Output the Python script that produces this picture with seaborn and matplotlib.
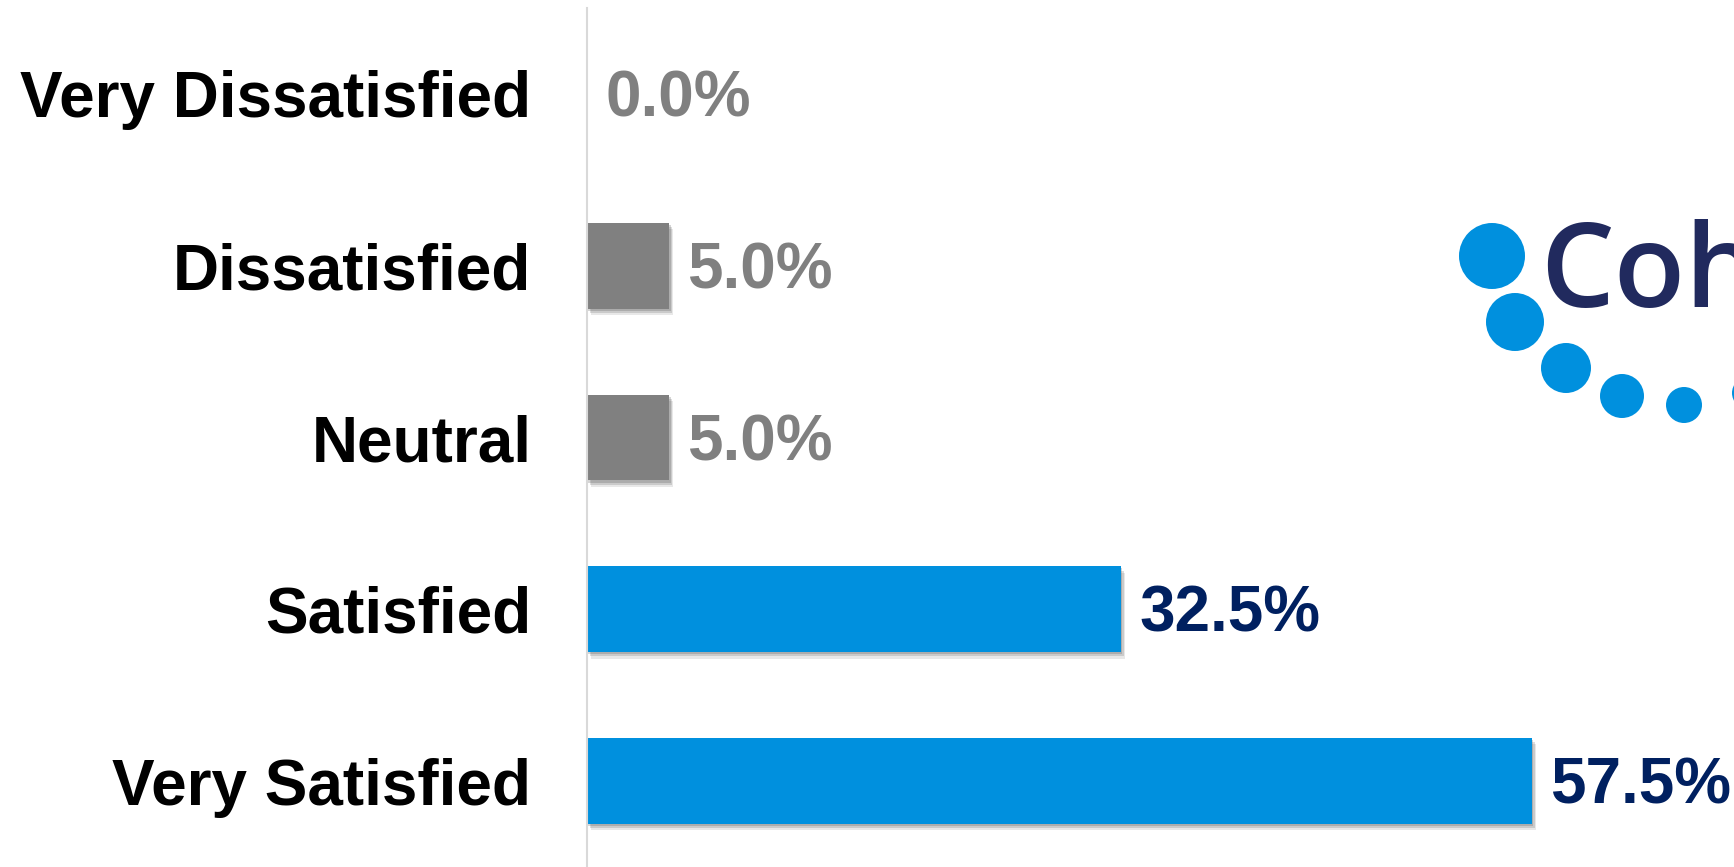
import numpy as np
import pandas as pd
import matplotlib
matplotlib.use("Agg")
import matplotlib.pyplot as plt
import matplotlib.patheffects as pe
from matplotlib.patches import Circle
import seaborn as sns

# survey responses, top to bottom
categories = ["Very Dissatisfied", "Dissatisfied", "Neutral", "Satisfied", "Very Satisfied"]
percent = [0.0, 5.0, 5.0, 32.5, 57.5]
bar_colors = ["#808080", "#808080", "#808080", "#0090DE", "#0090DE"]
label_colors = ["#808080", "#808080", "#808080", "#002060", "#002060"]

df = pd.DataFrame({"category": categories, "percent": percent})

sns.set_style("white")
plt.rcParams["font.family"] = ["Liberation Sans", "DejaVu Sans"]

fig = plt.figure(figsize=(17.34, 8.67), dpi=100)
fig.patch.set_facecolor("white")
ax = fig.add_axes([587 / 1734, 0.0, 1 - 587 / 1734, 1 - 8 / 867])

sns.barplot(data=df, x="percent", y="category", hue="category", order=categories,
            hue_order=categories, palette=bar_colors, legend=False, width=0.5,
            linewidth=0, saturation=1, ax=ax)

# soft drop shadow on the bars
for p in ax.patches:
    p.set_path_effects([pe.SimplePatchShadow(offset=(3, -4.5), shadow_rgbFace="#444444", alpha=0.12),
                        pe.SimplePatchShadow(offset=(2, -3), shadow_rgbFace="#444444", alpha=0.18),
                        pe.SimplePatchShadow(offset=(1, -1.5), shadow_rgbFace="#444444", alpha=0.22),
                        pe.Normal()])

for i, (v, c) in enumerate(zip(percent, label_colors)):
    ax.annotate(f"{v:.1f}%", xy=(v, i), xytext=(13, -4), textcoords="offset points",
                ha="left", va="center", fontsize=46, fontweight="bold", color=c)

ax.set_xlim(0, (1734 - 587) / 16.43)
ax.set_ylim(4.5, -0.5)
ax.set_xlabel("")
ax.set_ylabel("")
ax.set_xticks([])
ax.tick_params(axis="y", length=0, pad=40, labelsize=46)
for lbl in ax.get_yticklabels():
    lbl.set_fontweight("bold")
    lbl.set_color("black")
for s in ["top", "right", "bottom"]:
    ax.spines[s].set_visible(False)
ax.spines["left"].set_color("#d9d9d9")
ax.spines["left"].set_linewidth(1.5)

# logo, cut off at the right edge as in the original
lg = fig.add_axes([0, 0, 1, 1], facecolor="none")
lg.set_xlim(0, 1734)
lg.set_ylim(867, 0)
lg.axis("off")
dots = [(1492, 256, 33), (1515, 322, 29), (1566, 368, 25), (1622, 396, 22), (1684, 405, 18), (1748, 393, 16)]
for x, y, r in dots:
    lg.add_patch(Circle((x, y), r, color="#0090DE", lw=0))
lg.text(1540, 307, "Coh", fontsize=84, family="Open Sans", fontweight="semibold",
        color="#212A5E", ha="left", va="baseline", clip_on=True)

fig.savefig("out.png", dpi=100, facecolor="white")
